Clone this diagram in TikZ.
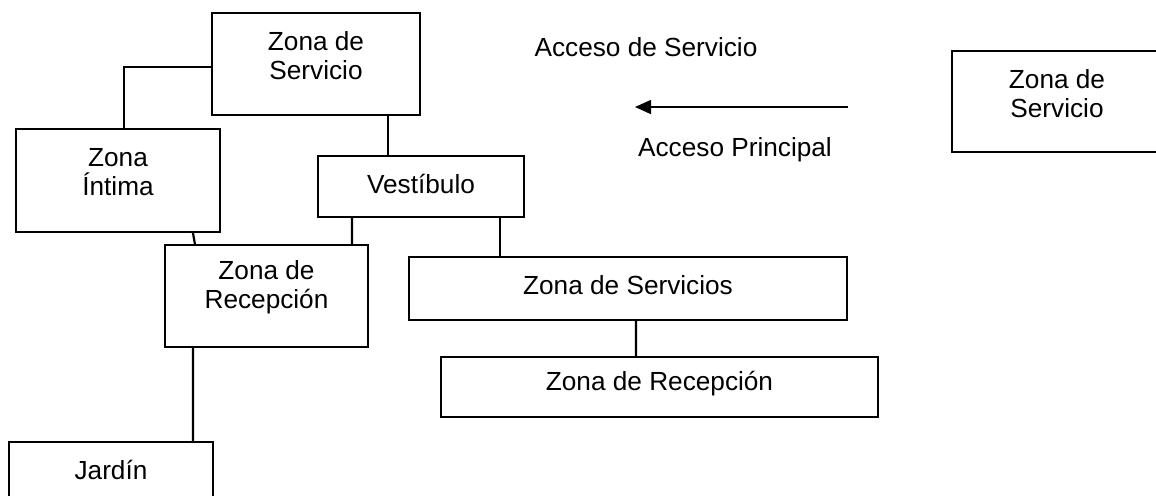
\documentclass[tikz,border=0pt]{standalone}
\usepackage{fontspec}
\setmainfont{Liberation Sans}
\usetikzlibrary{arrows.meta}
\begin{document}
\begin{tikzpicture}[x=0.5pt,y=-0.5pt,
  box/.style={draw, line width=1.1pt, rectangle, inner sep=0pt},
  txt/.style={font=\fontsize{13.1}{14.5}\selectfont, align=center, inner sep=0pt},
  conn/.style={line width=1.1pt},
]
\useasboundingbox (0,0) rectangle (1156,495);
% boxes
\node[box, minimum width=104pt, minimum height=51pt] (serv) at (316,64) {};
\node[box, minimum width=102pt, minimum height=51.5pt] (intima) at (118,180.5) {};
\node[box, minimum width=103pt, minimum height=30.5pt] (vest) at (421,186.5) {};
\node[box, minimum width=101.5pt, minimum height=51pt] (recep) at (266.5,296) {};
\node[box, minimum width=219pt, minimum height=31.5pt] (servs) at (628,288.5) {};
\node[box, minimum width=218.5pt, minimum height=30pt] (recepr) at (659.5,387) {};
\node[box, minimum width=102pt, minimum height=29pt] (jardin) at (111,471) {};
\node[box, minimum width=105pt, minimum height=50.5pt] (servr) at (1057,101.5) {};
% texts
\node[txt] at ([yshift=4pt]serv.center) {Zona de\\Servicio};
\node[txt] at ([yshift=4.2pt]intima.center) {Zona\\Íntima};
\node[txt] at ([yshift=1.5pt]vest.center) {Vestíbulo};
\node[txt] at ([yshift=4.5pt]recep.center) {Zona de\\Recepción};
\node[txt] at ([yshift=1.5pt]servs.center) {Zona de Servicios};
\node[txt] at ([yshift=1.5pt]recepr.center) {Zona de Recepción};
\node[txt] at ([yshift=0.5pt]jardin.center) {Jardín};
\node[txt] at ([yshift=3.8pt]servr.center) {Zona de\\Servicio};
\node[txt] (accserv) at (646,47) {Acceso de Servicio};
\node[txt] (accprin) at (735,150) {Acceso Principal};
% connectors
\draw[conn] ([yshift=-1.5pt]serv.west) -| ([xshift=3pt]intima.north);
\draw[conn] ([xshift=36pt]serv.south) -- ([xshift=-16.5pt]vest.north);
\draw[conn] ([xshift=37.5pt]intima.south) -- ([xshift=-35.8pt]recep.north);
\draw[conn] ([xshift=-34.5pt]vest.south) -- ([xshift=42.7pt]recep.north);
\draw[conn] ([xshift=39.5pt]vest.south) -- ([xshift=-64pt]servs.north);
\draw[conn] ([xshift=4pt]servs.south) -- ([xshift=-11.8pt]recepr.north);
\draw[conn] ([xshift=-36.8pt]recep.south) -- ([xshift=41pt]jardin.north);
% arrow
\coordinate (atail) at (848,107);
\coordinate (atip) at (635,107);
\draw[line width=0.8pt, -{Triangle[length=8pt,width=7pt]}] (atail) -- (atip);
\end{tikzpicture}
\end{document}
